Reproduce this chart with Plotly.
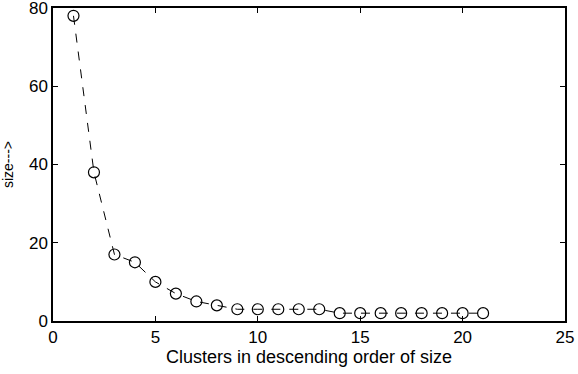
import plotly.graph_objects as go

cluster_rank = list(range(1, 22))
cluster_size = [78, 38, 17, 15, 10, 7, 5, 4, 3, 3, 3, 3, 3, 2, 2, 2, 2, 2, 2, 2, 2]

fig = go.Figure()
fig.add_trace(go.Scatter(
    x=cluster_rank,
    y=cluster_size,
    mode="lines+markers",
    line=dict(color="black", width=1, dash="dash"),
    marker=dict(symbol="circle-open", size=11, color="black", line=dict(width=1.2)),
    showlegend=False,
    cliponaxis=False,
))

axis_style = dict(
    showline=True,
    linecolor="black",
    linewidth=1.5,
    mirror="allticks",
    ticks="inside",
    ticklen=5,
    tickcolor="black",
    showgrid=False,
    zeroline=False,
    automargin=False,
    ticklabeloverflow="allow",
    tickfont=dict(family="Liberation Sans, Arial", size=17, color="black"),
)

fig.update_xaxes(
    range=[0, 25],
    tickvals=[0, 5, 10, 15, 20, 25],
    title=dict(text="Clusters in descending order of size",
               font=dict(family="Liberation Sans, Arial", size=18, color="black"),
               standoff=2),
    **axis_style,
)
fig.update_yaxes(
    range=[0, 80],
    tickvals=[0, 20, 40, 60, 80],
    title=dict(text="size--->",
               font=dict(family="Liberation Sans, Arial", size=14, color="black"),
               standoff=14),
    **axis_style,
)

fig.update_layout(
    width=578,
    height=374,
    margin=dict(l=53, r=13, t=8, b=53, autoexpand=False),
    plot_bgcolor="white",
    paper_bgcolor="white",
)

# the page body has a default 8px margin; drop it so the figure sits at 0,0
fig.write_html(
    "out.html",
    config={"displayModeBar": False},
    post_script="document.body.style.margin='0';document.body.style.overflow='hidden';",
)
